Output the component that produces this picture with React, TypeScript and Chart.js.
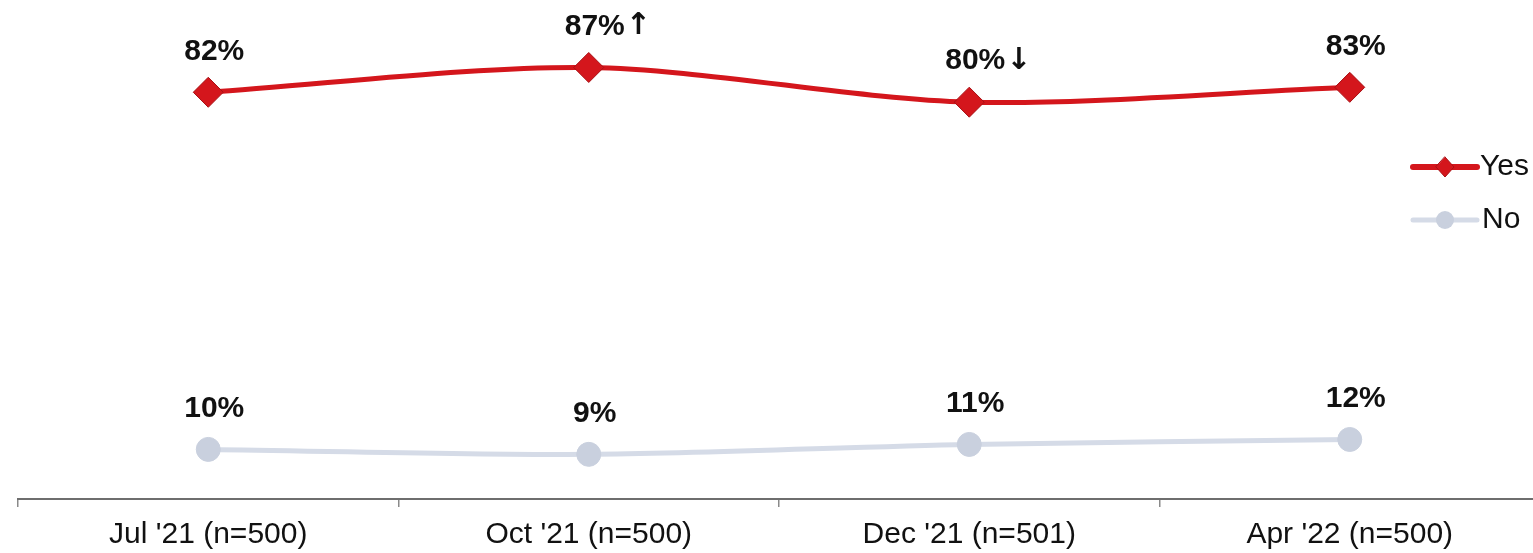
import React, { useEffect, useRef } from 'react';
import { Chart, registerables } from 'chart.js';

Chart.register(...registerables);

const categories = ["Jul '21 (n=500)", "Oct '21 (n=500)", "Dec '21 (n=501)", "Apr '22 (n=500)"];
const seriesNames = ['Yes', 'No'];
const yesValues = [82, 87, 80, 83];
const noValues = [10, 9, 11, 12];
const yesMarks = ['', '↑', '↓', ''];
const noMarks = ['', '', '', ''];

const FONT = '"Liberation Sans", Arial, Helvetica, sans-serif';
const RED = '#D4161C';
const RED_DARK = '#A81014';
const GREY = '#D5DBE7';
const GREY_DARK = '#C9D0DE';

const labelPlugin = {
  id: 'pointLabels',
  afterDatasetsDraw(chart: any) {
    const ctx = chart.ctx;
    const marks = [yesMarks, noMarks];
    ctx.save();
    ctx.fillStyle = '#111';
    ctx.textBaseline = 'middle';
    chart.data.datasets.forEach((ds: any, i: number) => {
      const meta = chart.getDatasetMeta(i);
      meta.data.forEach((pt: any, j: number) => {
        const text = ds.data[j] + '%';
        ctx.font = `bold 30px ${FONT}`;
        ctx.textAlign = 'center';
        ctx.fillText(text, pt.x + 6, pt.y - 41);
        const m = marks[i][j];
        if (m) {
          const w = ctx.measureText(text).width;
          ctx.font = 'bold 30px "DejaVu Sans", sans-serif';
          ctx.textAlign = 'left';
          ctx.fillText(m, pt.x + 6 + w / 2 + 1, pt.y - 41);
        }
      });
    });
    ctx.restore();
  },
};

const legendPlugin = {
  id: 'sideLegend',
  afterDraw(chart: any) {
    const ctx = chart.ctx;
    const ds = chart.data.datasets;
    ctx.save();
    const x0 = 1413;
    const x1 = 1477;
    const cx = (x0 + x1) / 2;
    let y = 167;
    ctx.strokeStyle = RED;
    ctx.lineWidth = 6;
    ctx.lineCap = 'round';
    ctx.beginPath();
    ctx.moveTo(x0, y);
    ctx.lineTo(x1, y);
    ctx.stroke();
    ctx.fillStyle = RED;
    ctx.strokeStyle = RED_DARK;
    ctx.lineWidth = 1;
    ctx.beginPath();
    ctx.moveTo(cx, y - 10);
    ctx.lineTo(cx + 9, y);
    ctx.lineTo(cx, y + 10);
    ctx.lineTo(cx - 9, y);
    ctx.closePath();
    ctx.fill();
    ctx.stroke();
    ctx.font = `30px ${FONT}`;
    ctx.fillStyle = '#111';
    ctx.textAlign = 'left';
    ctx.textBaseline = 'middle';
    ctx.fillText(ds[0].label, 1480, y);
    y = 220;
    ctx.strokeStyle = GREY;
    ctx.lineWidth = 5;
    ctx.beginPath();
    ctx.moveTo(x0, y);
    ctx.lineTo(x1, y);
    ctx.stroke();
    ctx.fillStyle = GREY_DARK;
    ctx.beginPath();
    ctx.arc(cx, y, 9, 0, Math.PI * 2);
    ctx.fill();
    ctx.fillStyle = '#111';
    ctx.fillText(ds[1].label, 1482, y);
    ctx.restore();
  },
};

export default function App() {
  const ref = useRef<HTMLCanvasElement | null>(null);

  useEffect(() => {
    if (!ref.current) return;
    const chart = new Chart(ref.current, {
      type: 'line',
      data: {
        labels: categories,
        datasets: [
          {
            label: seriesNames[0],
            data: yesValues,
            borderColor: RED,
            backgroundColor: RED,
            borderWidth: 5,
            tension: 0.3,
            pointStyle: 'rectRot',
            pointRadius: 15,
            pointBackgroundColor: RED,
            pointBorderColor: RED_DARK,
            pointBorderWidth: 1,
          },
          {
            label: seriesNames[1],
            data: noValues,
            borderColor: GREY,
            backgroundColor: GREY_DARK,
            borderWidth: 5,
            tension: 0.3,
            pointStyle: 'circle',
            pointRadius: 12,
            pointBackgroundColor: GREY_DARK,
            pointBorderColor: GREY_DARK,
            pointBorderWidth: 1,
          },
        ],
      },
      options: {
        responsive: true,
        maintainAspectRatio: false,
        animation: false,
        layout: { autoPadding: false, padding: { left: 18, right: 5, top: 3, bottom: 0 } },
        plugins: {
          legend: { display: false },
          tooltip: { enabled: false },
        },
        scales: {
          x: {
            offset: true,
            afterFit: (scale: any) => {
              scale.height = 54;
            },
            grid: {
              offset: true,
              drawOnChartArea: false,
              drawTicks: true,
              tickLength: 8,
              color: '#8a8a8a',
              lineWidth: 1.5,
            },
            border: { display: true, color: '#6e6e6e', width: 2 },
            ticks: {
              color: '#111',
              padding: 10,
              maxRotation: 0,
              font: { family: FONT, size: 30 },
            },
          },
          y: {
            display: false,
            min: 0,
            max: 100,
          },
        },
      },
      plugins: [labelPlugin, legendPlugin],
    });
    return () => chart.destroy();
  }, []);

  return (
    <div style={{ position: 'absolute', left: 0, top: 0, width: 1533, height: 553, overflow: 'hidden', background: '#fff' }}>
      <div style={{ position: 'relative', width: 1545, minWidth: 1545, height: 553 }}>
        <canvas ref={ref} />
      </div>
    </div>
  );
}
